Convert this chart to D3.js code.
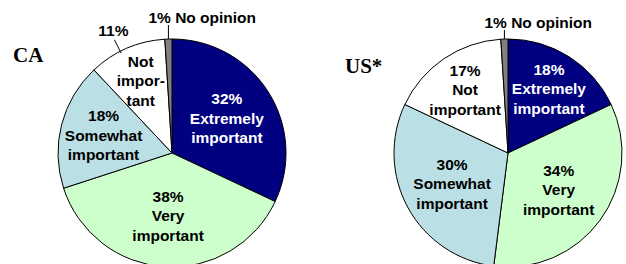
<!DOCTYPE html>
<html>
<head>
<meta charset="utf-8">
<script src="https://cdn.jsdelivr.net/npm/d3@7"></script>
<style>
  html, body { margin: 0; padding: 0; background: #fff; }
  svg { display: block; }
</style>
</head>
<body>
<svg id="chart"></svg>
<script>
// data
const categories = ["Extremely important", "Very important", "Somewhat important", "Not important", "No opinion"];
const caValues = [32, 38, 18, 11, 1];
const usValues = [18, 34, 30, 17, 1];
const caLines = [["Extremely", "important"], ["Very", "important"], ["Somewhat", "important"], ["Not", "impor-", "tant"], ["No opinion"]];
const usLines = [["Extremely", "important"], ["Very", "important"], ["Somewhat", "important"], ["Not", "important"], ["No opinion"]];
const sliceColors = ["#000080", "#CCFFCC", "#BADFE4", "#FFFFFF", "#808080"];

const width = 626, height = 264;
const svg = d3.select("#chart").attr("width", width).attr("height", height);

const fontSans = "'Liberation Sans', Arial, sans-serif";
const fontSerif = "'Liberation Serif', 'Times New Roman', serif";
const lineH = 19.5;

// layout for each pie (label radii are fractions of r per slice)
const charts = [
  { title: "CA", values: caValues, lines: caLines, cx: 172, cy: 153, r: 114,
    titleX: 13, titleY: 62, labelR: [0.57, 0.55, 0.62, 0.69, 0],
    outsidePct: 3 },
  { title: "US*", values: usValues, lines: usLines, cx: 508, cy: 153, r: 114,
    titleX: 345, titleY: 73, labelR: [0.67, 0.55, 0.56, 0.67, 0],
    outsidePct: -1 }
];

const pie = d3.pie().sort(null).value(d => d);

charts.forEach(c => {
  const g = svg.append("g").attr("transform", `translate(${c.cx},${c.cy})`);
  const arcs = pie(c.values);
  const arc = d3.arc().innerRadius(0).outerRadius(c.r);

  // slices
  g.selectAll("path")
    .data(arcs)
    .enter().append("path")
    .attr("d", arc)
    .attr("fill", (d, i) => sliceColors[i])
    .attr("stroke", "#000")
    .attr("stroke-width", 1);

  // inner labels
  arcs.forEach((d, i) => {
    if (i === 4) return;
    const mid = (d.startAngle + d.endAngle) / 2;
    const lr = c.r * c.labelR[i];
    const x = Math.sin(mid) * lr, y = -Math.cos(mid) * lr;
    let lines = c.lines[i].slice();
    if (i !== c.outsidePct) lines = [c.values[i] + "%"].concat(lines);
    const t = g.append("text")
      .attr("text-anchor", "middle")
      .style("font-family", fontSans)
      .style("font-weight", "bold")
      .style("font-size", "15.5px")
      .attr("fill", i === 0 ? "#fff" : "#000");
    const y0 = y - (lines.length - 1) * lineH / 2 + 5.5;
    lines.forEach((ln, k) => {
      t.append("tspan").attr("x", x).attr("y", y0 + k * lineH).text(ln);
    });

    // outside percentage with leader
    if (i === c.outsidePct) {
      const a = d.startAngle + (d.endAngle - d.startAngle) * 0.41;
      const p1 = [Math.sin(a) * (c.r - 2), -Math.cos(a) * (c.r - 2)];
      const p2 = [Math.sin(a) * (c.r + 13), -Math.cos(a) * (c.r + 13)];
      g.append("line").attr("x1", p1[0]).attr("y1", p1[1]).attr("x2", p2[0]).attr("y2", p2[1])
        .attr("stroke", "#000").attr("stroke-width", 1);
      g.append("text")
        .attr("x", p2[0] - 1).attr("y", p2[1] - 4)
        .attr("text-anchor", "middle")
        .style("font-family", fontSans)
        .style("font-weight", "bold")
        .style("font-size", "15.5px")
        .text(c.values[i] + "%");
    }
  });

  // no opinion label above the pie
  const nd = arcs[4];
  const na = (nd.startAngle + nd.endAngle) / 2;
  const nx = Math.sin(na) * c.r, ny = -Math.cos(na) * c.r;
  const topY = c.title === "CA" ? -128 : -123;
  g.append("line").attr("x1", nx).attr("y1", ny).attr("x2", nx).attr("y2", topY)
    .attr("stroke", "#000").attr("stroke-width", 1);
  g.append("text")
    .attr("x", nx - 20).attr("y", topY - 2)
    .style("font-family", fontSans)
    .style("font-weight", "bold")
    .style("font-size", "15.5px")
    .text(c.values[4] + "% " + c.lines[4][0]);

  // title
  svg.append("text")
    .attr("x", c.titleX).attr("y", c.titleY)
    .style("font-family", fontSerif)
    .style("font-weight", "bold")
    .style("font-size", "21px")
    .text(c.title);
});
</script>
</body>
</html>
